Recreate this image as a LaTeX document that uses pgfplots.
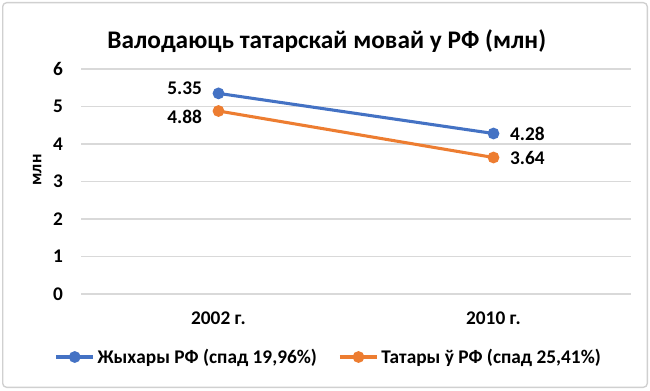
\documentclass[border=0pt]{standalone}
\usepackage{pgfplots}
\pgfplotsset{compat=1.18}
\usepackage{fontspec}
\setmainfont{Carlito}
\definecolor{cblue}{HTML}{4472C4}
\definecolor{corange}{HTML}{ED7D31}
\definecolor{cgrid}{HTML}{D9D9D9}
\definecolor{cframe}{HTML}{D0D0D0}
\begin{document}
\begin{tikzpicture}
\fill[white] (0pt,0pt) rectangle (487.5pt,292.5pt);
\draw[cframe, line width=1pt, rounded corners=3pt] (2pt,2pt) rectangle (485.5pt,290.5pt);
\begin{axis}[
  at={(60.75pt,72pt)}, anchor=south west,
  scale only axis, width=412.5pt, height=168.75pt,
  xmin=-0.5, xmax=1.5, ymin=0, ymax=6,
  xtick={0,1}, xticklabels={2002 г., 2010 г.},
  ytick={0,1,2,3,4,5,6},
  axis line style={draw=none},
  major tick length=0pt,
  ymajorgrids, grid style={cgrid, line width=0.9pt},
  /pgf/number format/assume math mode=true,
  tick label style={font=\fontsize{14.5}{16}\selectfont\bfseries, text=black},
  yticklabel style={xshift=-10pt},
  xticklabel style={yshift=-10pt},
  clip=false,
  legend columns=2,
  legend style={at={(0.451,-0.28)}, anchor=center, draw=none, fill=none,
    font=\fontsize{14.5}{16}\selectfont\bfseries,
    /tikz/every even column/.append style={column sep=14pt}},
  legend image code/.code={\draw[#1, mark repeat=2, mark phase=2] plot coordinates {(0pt,0pt) (14pt,0pt) (28pt,0pt)};},
]
\addplot[cblue, line width=2.3pt, mark=*, mark size=3.2pt] coordinates {(0,5.35) (1,4.28)}
  node[pos=0, anchor=east, xshift=-8pt, yshift=4pt, font=\fontsize{14.5}{16}\selectfont\bfseries, text=black] {5.35}
  node[pos=1, anchor=west, xshift=8pt, font=\fontsize{14.5}{16}\selectfont\bfseries, text=black] {4.28};
\addlegendentry{Жыхары РФ (спад 19,96\%)}
\addplot[corange, line width=2.3pt, mark=*, mark size=3.2pt] coordinates {(0,4.88) (1,3.64)}
  node[pos=0, anchor=east, xshift=-8pt, yshift=-4.5pt, font=\fontsize{14.5}{16}\selectfont\bfseries, text=black] {4.88}
  node[pos=1, anchor=west, xshift=8pt, font=\fontsize{14.5}{16}\selectfont\bfseries, text=black] {3.64};
\addlegendentry{Татары ў РФ (спад 25,41\%)}
\end{axis}
\node[font=\fontsize{19}{22}\selectfont\bfseries] at (245pt,262pt) {Валодаюць татарскай мовай у РФ (млн)};
\node[font=\fontsize{13}{15}\selectfont\bfseries, rotate=90] at (28pt,165pt) {млн};
\end{tikzpicture}
\end{document}
